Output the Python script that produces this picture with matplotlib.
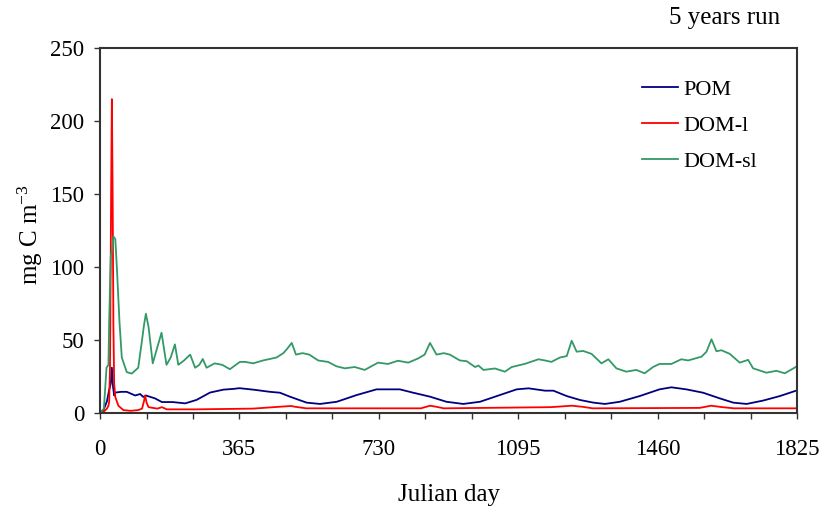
import matplotlib
matplotlib.use("Agg")
import matplotlib.pyplot as plt
from matplotlib.ticker import MultipleLocator

plt.rcParams['font.family'] = ['Liberation Serif', 'DejaVu Serif']

# POM
pom_days = [0, 9, 18, 24, 28, 31, 34, 37, 40, 55, 70, 92, 105, 113, 120, 144, 162, 190,
            223, 253, 288, 323, 349, 365, 401, 445, 471, 497, 541, 576, 620, 672, 724,
            785, 820, 864, 907, 951, 995, 1039, 1091, 1122, 1165, 1187, 1222, 1257, 1292,
            1322, 1361, 1413, 1465, 1496, 1535, 1579, 1623, 1658, 1693, 1736, 1780, 1825]
pom_vals = [0, 2, 8, 16, 20, 31, 18, 12, 14, 14.5, 14.5, 12, 13, 11, 12, 10, 7.5, 7.5,
            6.6, 9, 14, 16, 16.5, 17, 16, 14.5, 13.9, 11.2, 7.1, 6.2, 7.7, 12.3, 16.2,
            16.2, 13.9, 11.2, 7.7, 6.2, 7.7, 11.6, 16.2, 16.9, 15.3, 15.3, 11.6, 8.9, 7.1,
            6.2, 7.7, 11.6, 16.2, 17.6, 16.2, 13.9, 10, 7.1, 6.2, 8.5, 11.6, 15.5]

# DOM-l
doml_days = [0, 10, 18, 22, 24, 26, 27, 29, 31, 33, 35, 37, 40, 48, 61, 80, 100, 110,
             115, 118, 122, 127, 150, 162, 175, 250, 400, 471, 500, 510, 540, 840, 864,
             880, 900, 1180, 1235, 1265, 1290, 1570, 1600, 1630, 1660, 1825]
doml_vals = [0, 1, 3, 5, 8, 30, 64, 150, 215, 150, 60, 20, 11, 5, 2, 1.5, 2, 3,
             8, 12, 7, 4, 3, 4, 2.5, 2.5, 3, 4.3, 4.8, 4.3, 3.2, 3.2, 5,
             4.3, 3.2, 4, 5, 4.2, 3.2, 3.5, 5, 4, 3.2, 3.2]

# DOM-sl
domsl_days = [0, 10, 17, 22, 24, 28, 31, 35, 40, 44, 51, 57, 70, 83, 100, 110, 115, 120,
              127, 138, 150, 161, 174, 185, 196, 205, 220, 236, 249, 260, 269, 279, 300,
              320, 340, 366, 380, 401, 427, 462, 480, 490, 502, 513, 530, 548, 571, 597,
              619, 641, 667, 693, 728, 754, 780, 807, 833, 850, 864, 881, 900, 916, 942,
              960, 982, 991, 1004, 1034, 1060, 1078, 1113, 1148, 1165, 1182, 1204, 1222,
              1235, 1248, 1265, 1287, 1313, 1331, 1352, 1378, 1404, 1426, 1448, 1465,
              1496, 1522, 1540, 1575, 1588, 1601, 1614, 1627, 1649, 1675, 1697, 1710,
              1745, 1771, 1793, 1825]
domsl_vals = [0, 3, 31, 33, 64, 107, 111, 121, 119, 100, 62, 38, 28, 27, 31, 50, 60, 68,
              59, 34, 45, 55, 33, 38, 47, 33, 36, 40, 31, 33, 37, 31, 34,
              33, 30, 35, 35, 34, 36, 38, 41, 44, 48, 40, 41, 40, 36, 35,
              32, 30.6, 31.5, 29.5, 34.5, 33.6, 35.8, 34.5, 37.4, 40, 48, 40, 41, 40, 36,
              35.5, 31.5, 32.5, 29.5, 30.5, 28.3, 31.5, 33.7, 36.8, 36, 35, 38, 39,
              49.5, 42, 42.5, 40.5, 34, 36.8, 30.6, 28.3, 29.5, 27.2, 31.5, 33.6,
              33.6, 36.8, 36, 38.6, 42, 50.5, 42.3, 43, 40.5, 34.5, 36.4, 30.6,
              27.6, 28.9, 27.2, 32]

fig = plt.figure(figsize=(8.22, 5.08), dpi=100)
ax = fig.add_axes([0.1217, 0.187, 0.8479, 0.7185])

ax.plot(pom_days, pom_vals, color='#000080', lw=1.3, label='POM')
ax.plot(doml_days, doml_vals, color='#FF0000', lw=1.3, label='DOM-l')
ax.plot(domsl_days, domsl_vals, color='#339966', lw=1.3, label='DOM-sl')

ax.set_xlim(0, 1825)
ax.set_ylim(0, 250)
ax.xaxis.set_major_locator(MultipleLocator(365))
ax.xaxis.set_minor_locator(MultipleLocator(365 / 3))
ax.yaxis.set_major_locator(MultipleLocator(50))
ax.tick_params(which='both', direction='out', length=4.5, width=1, colors='#333333',
               labelcolor='black', labelsize=16.5)
ax.tick_params(axis='x', pad=14)
ax.tick_params(axis='y', pad=7)
for s in ax.spines.values():
    s.set_color('#333333')
    s.set_linewidth(1.5)

ax.set_xlabel('Julian day', fontsize=18)
ax.xaxis.set_label_coords(0.5, -0.195)
ax.set_ylabel(r'mg C m$\mathregular{^{-3}}$', fontsize=18)
ax.yaxis.set_label_coords(-0.079, 0.488)

ax.legend(loc='upper left', bbox_to_anchor=(0.778, 0.915), frameon=False, fontsize=16,
          handlelength=1.6, handletextpad=0.25, labelspacing=0.7, borderpad=0,
          borderaxespad=0)

fig.text(0.881, 0.965, '5 years run', ha='center', va='center', fontsize=18)

fig.savefig('out.png', dpi=100)
